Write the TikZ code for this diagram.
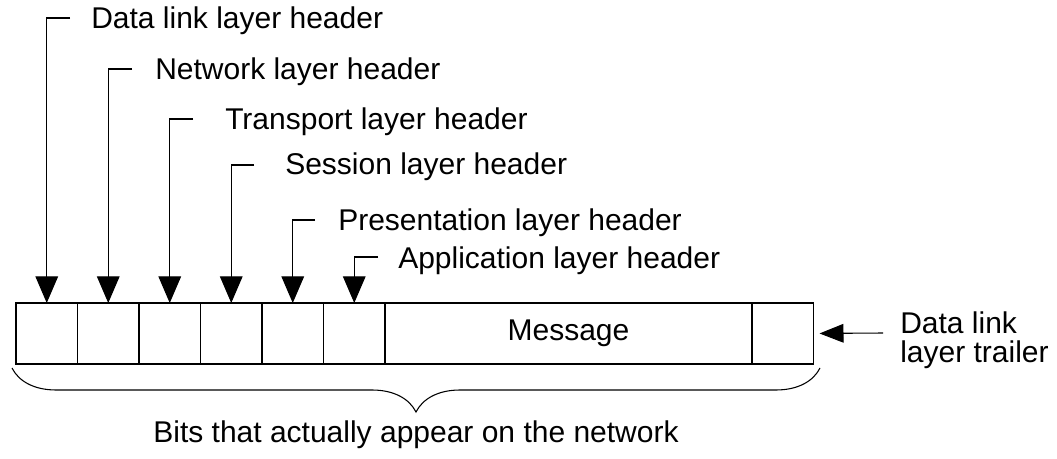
\documentclass[tikz,border=0pt]{standalone}
\usepackage{fontspec}
\setmainfont{Liberation Sans}
\usetikzlibrary{arrows.meta,decorations.pathreplacing}
\begin{document}
\begin{tikzpicture}[x=0.75pt,y=-0.75pt,
  every node/.style={font=\fontsize{22.5pt}{21.75pt}\selectfont},
  cell/.style={draw,line width=0.8pt,inner sep=0pt,outer sep=0pt,minimum width=46.125pt,minimum height=45.75pt},
  lbl/.style={anchor=base west,inner sep=0pt},
  hdr/.style={draw=black,line width=0.8pt,-{Triangle[width=17pt,length=20pt]}}]
  \useasboundingbox (0,0) rectangle (1057,459);
  \begin{scope}[every node/.append style={cell}]
  \node (h1) at (46.75,333.5) {};
  \node (h2) at (108.25,333.5) {};
  \node (h3) at (169.75,333.5) {};
  \node (h4) at (231.25,333.5) {};
  \node (h5) at (292.75,333.5) {};
  \node (h6) at (354.25,333.5) {};
  \node[minimum width=275.25pt] (msg) at (568.5,333.5) {Message};
  \node (trl) at (782.75,333.5) {};
  \end{scope}
  % label texts
  \node[lbl] (l1) at (91,29) {Data link layer header};
  \node[lbl] (l2) at (155,80) {Network layer header};
  \node[lbl] (l3) at (225,130) {Transport layer header};
  \node[lbl] (l4) at (285,175) {Session layer header};
  \node[lbl] (l5) at (338,231) {Presentation layer header};
  \node[lbl] (l6) at (398,269) {Application layer header};
  \node[anchor=west,align=left,inner sep=0pt] (l7) at (900,340) {Data link\\layer trailer};
  \node[anchor=base,inner sep=0pt] (bits) at (416,443) {Bits that actually appear on the network};
  \coordinate (e1) at (70,18);
  \coordinate (e2) at (132,69);
  \coordinate (e3) at (193,119);
  \coordinate (e4) at (254,165);
  \coordinate (e5) at (315,220);
  \coordinate (e6) at (378,257);
  \coordinate (e7) at (883,333);
  \coordinate (b1) at (12,368);
  \coordinate (b2) at (820,368);
  \begin{scope}[every edge/.style={hdr}]
  \draw[hdr] (e1) -| (h1.north);
  \draw[hdr] (e2) -| (h2.north);
  \draw[hdr] (e3) -| (h3.north);
  \draw[hdr] (e4) -| (h4.north);
  \draw[hdr] (e5) -| (h5.north);
  \draw[hdr] (e6) -| (h6.north);
  \path (e7) edge[shorten >=4.5pt,-{Triangle[width=14pt,length=18pt]}] (trl.east);
  \end{scope}
  \draw[line width=0.8pt,decorate,decoration={brace,mirror,amplitude=33pt}] (b1) -- (b2);
\end{tikzpicture}
\end{document}
